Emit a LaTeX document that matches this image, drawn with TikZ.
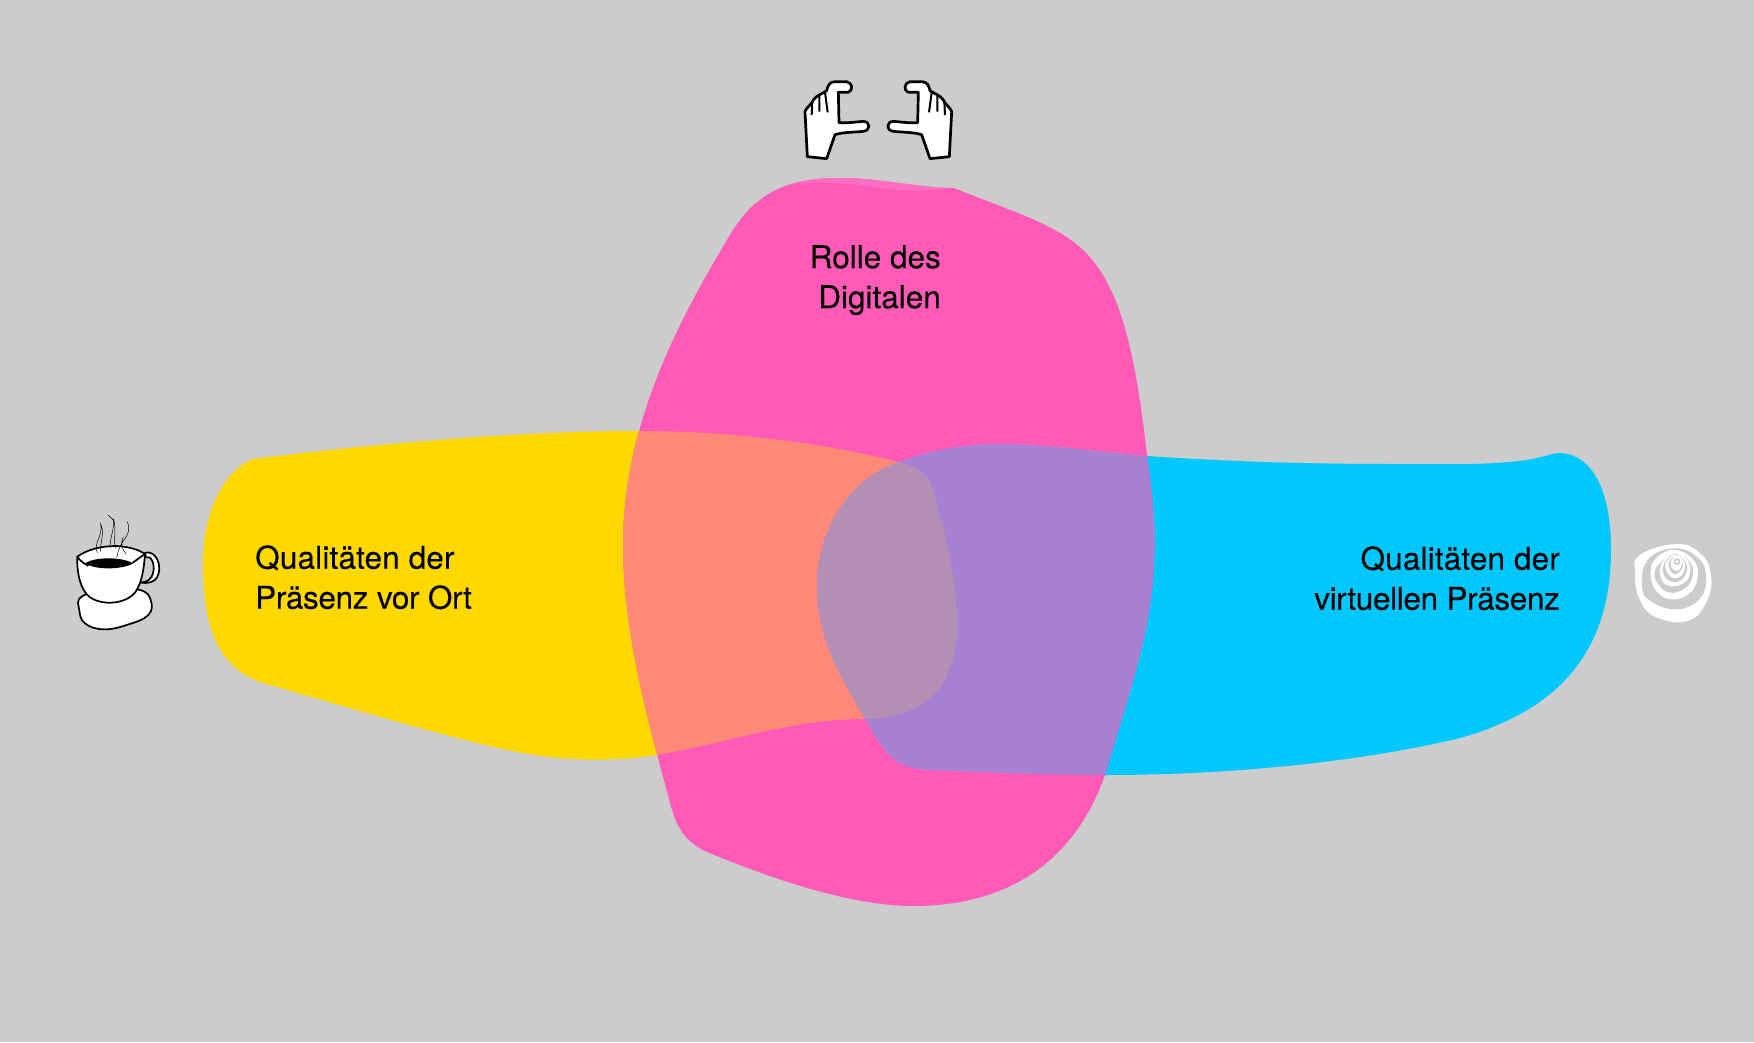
\documentclass[tikz,border=0pt]{standalone}
\usepackage{fontspec}
\setmainfont[FakeBold=0.15]{TeX Gyre Heros}
\definecolor{bgc}{HTML}{CCCCCC}
\definecolor{yel}{HTML}{FFD800}
\definecolor{cya}{HTML}{00C8FF}
\definecolor{pnk}{HTML}{FF5AB8}
\definecolor{pnkl}{HTML}{FF6EC0}
\definecolor{py}{HTML}{FF8878}
\definecolor{pc}{HTML}{A880D2}
\definecolor{pyc}{HTML}{B38FB5}
\newcommand{\tightline}[1]{{\addfontfeature{LetterSpace=-1.1}#1}}
\newcommand{\wideline}[1]{{\addfontfeature{LetterSpace=0.5}#1}}
\def\yellowp{(253,459) .. controls (340,448) and (500,431) .. (638,431)
 .. controls (730,431) and (820,442) .. (899,462)
 .. controls (915,466) and (927,472) .. (933,490)
 .. controls (945,530) and (957,580) .. (957,625)
 .. controls (957,690) and (920,719) .. (865,719)
 .. controls (790,719) and (720,745) .. (657,755)
 .. controls (620,761) and (570,762) .. (523,753)
 .. controls (470,744) and (350,708) .. (263,683)
 .. controls (225,670) and (203,640) .. (203,563)
 .. controls (203,510) and (225,470) .. (253,459) -- cycle}
\def\pinkp{(954,188) .. controls (1000,207) and (1045,220) .. (1075,243)
 .. controls (1120,278) and (1135,350) .. (1147,455)
 .. controls (1153,500) and (1156,530) .. (1154,560)
 .. controls (1152,630) and (1130,690) .. (1105,775)
 .. controls (1075,860) and (1010,906) .. (913,906)
 .. controls (850,906) and (770,878) .. (707,852)
 .. controls (683,841) and (676,825) .. (670,803)
 .. controls (655,745) and (623,640) .. (623,545)
 .. controls (623,510) and (628,470) .. (640,428)
 .. controls (660,355) and (700,285) .. (727,240)
 .. controls (755,190) and (790,178) .. (841,178)
 .. controls (880,178) and (920,188) .. (954,188) -- cycle}
\def\cyanp{(1560,453) .. controls (1595,455) and (1611,495) .. (1611,550)
 .. controls (1611,650) and (1560,710) .. (1460,738)
 .. controls (1360,762) and (1230,775) .. (1105,775)
 .. controls (1040,775) and (980,772) .. (930,770)
 .. controls (895,769) and (885,755) .. (865,719)
 .. controls (840,675) and (817,640) .. (817,585)
 .. controls (817,535) and (845,480) .. (899,462)
 .. controls (925,452) and (960,444) .. (997,444)
 .. controls (1050,444) and (1110,453) .. (1147,456)
 .. controls (1250,463) and (1330,464) .. (1400,464)
 .. controls (1450,464) and (1510,466) .. (1545,456)
 .. controls (1552,454) and (1556,453) .. (1560,453) -- cycle}
\def\handp{(82,290) -- (75,155) .. controls (80,140) and (90,140) .. (100,120)
 .. controls (110,105) and (130,100) .. (140,92)
 .. controls (143,78) and (148,65) .. (165,65) -- (200,65)
 .. controls (218,68) and (220,92) .. (205,97) -- (175,97) -- (177,188)
 .. controls (200,190) and (225,186) .. (250,184)
 .. controls (272,185) and (272,212) .. (250,214)
 .. controls (225,217) and (190,216) .. (165,224) -- (140,296) -- cycle}
\tikzset{
  label text/.style={inner sep=0pt,font=\fontsize{31.5}{40}\selectfont,text=black},
  ink/.style={draw=black,fill=white,line width=2.7pt,line join=round},
  inkcup/.style={draw=black,fill=white,line width=1.7pt,line join=round},
  steam/.style={draw=black,line width=.5pt},
  zoomed/.style={x=.33333pt,y=-.33333pt}
}
\begin{document}
\begin{tikzpicture}[x=1pt,y=-1pt]
\useasboundingbox (0,0) rectangle (1754,1042);
\fill[bgc] (0,0) rectangle (1754,1042);
% blobs
\fill[yel] \yellowp;
\fill[cya] \cyanp;
\fill[pnk] \pinkp;
\fill[pnkl] (954,188) .. controls (920,188) and (880,178) .. (841,178)
  .. controls (820,178) and (800,180) .. (785,186)
  .. controls (810,180) and (850,183) .. (880,188)
  .. controls (905,192) and (930,191) .. (954,188) -- cycle;
\begin{scope}
  \clip \pinkp;
  \fill[py] \yellowp;
  \fill[pc] \cyanp;
  \clip \yellowp;
  \fill[pyc] \cyanp;
\end{scope}
% labels
\node[label text,anchor=north west,align=left] (yl) at (255,545) {\wideline{Qualitäten der}\\\tightline{Präsenz vor Ort}};
\node[label text,anchor=north east,align=right] (cl) at (1560,546) {\wideline{Qualitäten der}\\\tightline{virtuellen Präsenz}};
\node[label text,anchor=north east,align=right] (pl) at (941,245) {Rolle des\\Digitalen};
% hands
\begin{scope}[shift={(780,60)},zoomed]
  \path[ink] \handp;
  \draw[ink,fill=none,line width=2pt] (97,125) -- (95,165) (118,108) -- (118,155) (135,97) -- (143,157);
\end{scope}
\begin{scope}[shift={(976.67,60)},x=-.33333pt,y=-.33333pt]
  \path[ink] \handp;
  \draw[ink,fill=none,line width=2pt] (97,125) -- (95,165) (118,108) -- (118,155) (135,97) -- (143,157);
\end{scope}
% cup
\begin{scope}[shift={(60,500)},zoomed]
  \draw[inkcup] plot[smooth cycle,tension=.7] coordinates {(65,290) (58,330) (75,370) (130,388) (200,375) (265,345) (272,300) (240,270) (150,265)};
  \draw[inkcup] (255,158) .. controls (290,150) and (308,200) .. (292,230) .. controls (282,250) and (260,250) .. (242,248)
     .. controls (262,245) and (275,240) .. (280,215) .. controls (285,190) and (272,165) .. (258,172) -- cycle;
  \draw[inkcup] (52,170) .. controls (80,150) and (120,138) .. (170,138) .. controls (205,140) and (235,148) .. (255,162)
     .. controls (252,200) and (248,245) .. (225,278) .. controls (195,312) and (130,318) .. (90,292)
     .. controls (60,270) and (50,215) .. (52,170) -- cycle;
  \draw[inkcup,fill=none] (52,170) .. controls (62,185) and (72,190) .. (85,198) (255,162) .. controls (240,172) and (230,180) .. (218,188);
  \fill[black] (75,190) .. controls (100,172) and (180,168) .. (220,190) .. controls (190,208) and (110,212) .. (75,190) -- cycle;
  \draw[steam] (112,158) .. controls (98,130) and (130,110) .. (122,72) .. controls (135,100) and (120,125) .. (122,155);
  \draw[steam] (145,45) .. controls (150,55) and (155,50) .. (160,60) .. controls (165,80) and (150,110) .. (150,145)
     (160,56) .. controls (170,85) and (160,115) .. (166,145);
  \draw[steam] (202,65) .. controls (215,95) and (195,115) .. (188,125) .. controls (180,140) and (175,150) .. (170,172)
     (190,112) .. controls (178,135) and (190,150) .. (198,162);
\end{scope}
% spiral
\begin{scope}[shift={(1620,530)},zoomed]
  \fill[white] plot[smooth cycle,tension=.75] coordinates {(60,75) (170,42) (240,70) (272,130) (262,210) (205,272) (110,262) (60,210) (45,130)};
  \fill[bgc] plot[smooth cycle,tension=.75] coordinates {(85,88) (165,55) (235,85) (258,140) (240,205) (170,238) (90,212) (66,165)};
  \fill[white] plot[smooth cycle,tension=.75] coordinates {(108,85) (165,60) (222,92) (232,145) (208,190) (155,208) (108,182) (92,130)};
  \fill[bgc] plot[smooth cycle,tension=.75] coordinates {(120,100) (165,68) (212,100) (216,145) (192,176) (150,188) (116,165) (104,130)};
  \fill[white] plot[smooth cycle,tension=.75] coordinates {(125,100) (165,66) (205,95) (208,135) (190,160) (155,168) (125,150)};
  \fill[bgc] plot[smooth cycle,tension=.75] coordinates {(133,100) (167,72) (198,100) (198,130) (180,152) (155,156) (132,135)};
  \fill[white] plot[smooth cycle,tension=.75] coordinates {(140,95) (168,74) (192,95) (192,125) (175,142) (155,142) (138,120)};
  \fill[bgc] plot[smooth cycle,tension=.75] coordinates {(148,92) (170,80) (187,97) (187,115) (172,130) (158,130) (147,112)};
  \fill[white] plot[smooth cycle,tension=.75] coordinates {(155,90) (172,78) (185,95) (183,112) (172,122) (160,118) (152,105)};
  \fill[bgc] (171,95) circle[radius=10];
  \fill[white] (171,95) circle[radius=5];
\end{scope}
\end{tikzpicture}
\end{document}
